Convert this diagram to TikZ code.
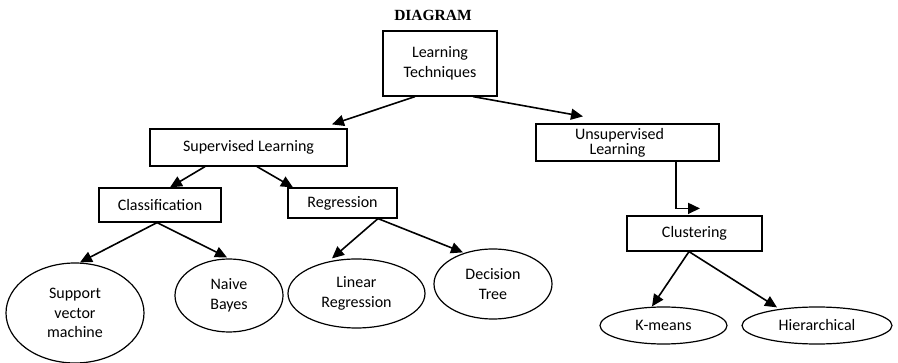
\documentclass[tikz,border=0pt]{standalone}
\usepackage{fontspec}
\setmainfont{Carlito}
\newfontfamily\titlefont{Liberation Serif}
\usetikzlibrary{arrows.meta,shapes.geometric}
\begin{document}
\begin{tikzpicture}[x=1pt,y=-1pt,
  every node/.style={font=\fontsize{16}{19.5}\selectfont, inner sep=0pt},
  box/.style={draw, line width=1.2pt, rectangle, align=center},
  oval/.style={draw, line width=1.2pt, ellipse, align=center},
  arr/.style={line width=1.6pt, -{Triangle[length=12pt,width=11pt]}}]
\useasboundingbox (0,0) rectangle (898,363);
\node[font=\titlefont\bfseries\fontsize{15.5}{18}\selectfont] (title) at (433,15) {DIAGRAM};
% boxes
\node[box, minimum width=114pt, minimum height=65pt] (LT) at (440,63.5) {Learning\\Techniques};
\node[box, minimum width=197pt, minimum height=37pt] (SL) at (248.5,147.5) {Supervised Learning};
\node[box, minimum width=122pt, minimum height=34pt] (CL) at (160,205) {Classification};
\node[box, minimum width=109pt, minimum height=30pt] (RG) at (342.5,203) {Regression};
\node[box, minimum width=183pt, minimum height=37pt, font=\fontsize{16}{15}\selectfont] (US) at (627.5,142.5) {Unsupervised\hspace*{16pt}\\Learning\hspace*{20pt}};
\node[box, minimum width=135pt, minimum height=35pt] (CLU) at (694.5,233.5) {Clustering};
% ellipses
\node[oval, minimum width=138pt, minimum height=100pt] (SVM) at (75,313) {Support\\vector\\machine};
\node[oval, minimum width=108pt, minimum height=73pt] (NB) at (229,295.5) {Naive\\Bayes};
\node[oval, minimum width=137pt, minimum height=69pt] (LR) at (356.5,293.5) {Linear\\Regression};
\node[oval, minimum width=118pt, minimum height=70pt] (DT) at (493,284) {Decision\\Tree};
\node[oval, minimum width=127pt, minimum height=37pt] (KM) at (663.5,325.5) {K-means};
\node[oval, minimum width=150pt, minimum height=37pt] (HI) at (817,325.5) {Hierarchical};
% connectors
\draw[arr] ([xshift=-25pt]LT.south) -- ([xshift=83.5pt,yshift=4pt]SL.north);
\draw[arr] ([xshift=33pt]LT.south) -- ([xshift=-44.5pt,yshift=7pt]US.north);
\draw[arr] ([xshift=-43.5pt]SL.south) -- ([xshift=10pt]CL.north);
\draw[arr] ([xshift=8.5pt]SL.south) -- ([xshift=-49.5pt]RG.north);
\draw[arr] ([xshift=-3pt]CL.south) -- ([xshift=5pt]SVM.north);
\draw[arr] ([xshift=-3pt]CL.south) -- ([xshift=-2pt,yshift=1pt]NB.north);
\draw[arr] ([xshift=35.5pt]RG.south) -- ([xshift=-24.5pt]LR.north);
\draw[arr] ([xshift=35.5pt]RG.south) -- ([xshift=-30pt,yshift=-4pt]DT.north);
\draw[arr] ([xshift=24.5pt]US.south) -- ++(24,0) |- ([xshift=5.5pt,yshift=7pt]CLU.north);
\draw[arr] ([xshift=-5.5pt]CLU.south) -- ([xshift=-11.5pt]KM.north);
\draw[arr] ([xshift=-5.5pt]CLU.south) -- ([xshift=-40pt,yshift=-1pt]HI.north);
\end{tikzpicture}
\end{document}
